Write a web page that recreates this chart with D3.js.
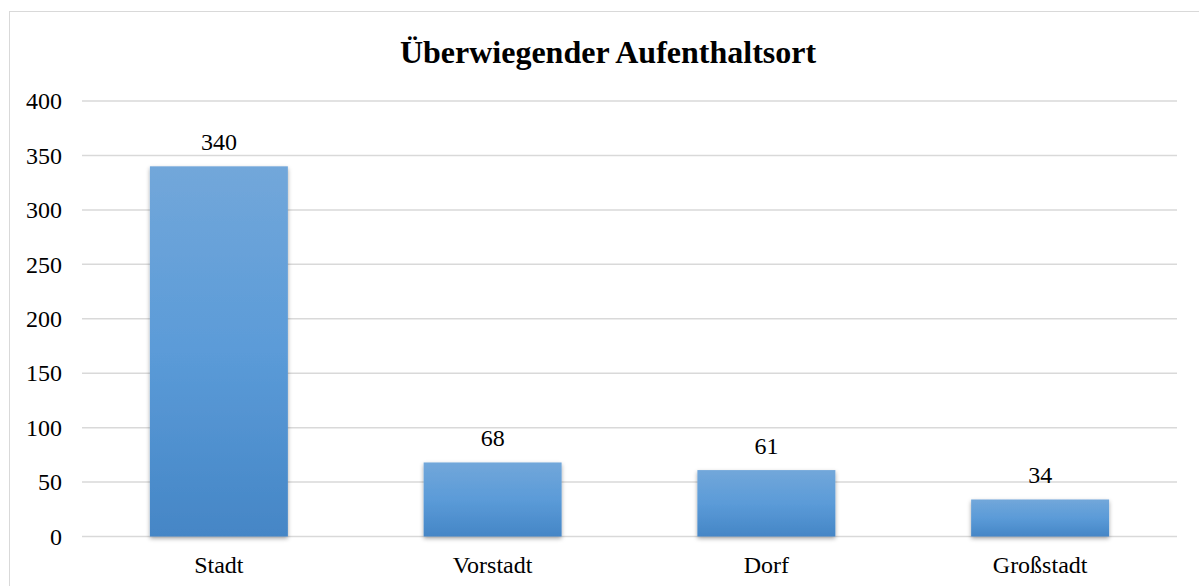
<!DOCTYPE html>
<html>
<head>
<meta charset="utf-8">
<script src="https://cdn.jsdelivr.net/npm/d3@7"></script>
<style>
  body { margin: 0; background: #fff; }
  svg { display: block; }
  svg text { font-family: "Liberation Serif", "Times New Roman", serif; }
</style>
</head>
<body>
<svg id="chart"></svg>
<script>
// Data
var categories = ["Stadt", "Vorstadt", "Dorf", "Großstadt"];
var values = [340, 68, 61, 34];
var yTicks = [0, 50, 100, 150, 200, 250, 300, 350, 400];
var title = "Überwiegender Aufenthaltsort";

var W = 1199, H = 586;
var plot = { left: 82, right: 1177, top: 101, bottom: 536.5 };

var svg = d3.select("#chart")
  .attr("width", W)
  .attr("height", H);

// gradient + shadow for the bars
var defs = svg.append("defs");
var grad = defs.append("linearGradient")
  .attr("id", "barGrad")
  .attr("x1", 0).attr("y1", 0).attr("x2", 0).attr("y2", 1);
grad.append("stop").attr("offset", "0%").attr("stop-color", "#72a7da");
grad.append("stop").attr("offset", "50%").attr("stop-color", "#5b9bd8");
grad.append("stop").attr("offset", "100%").attr("stop-color", "#4586c6");

var shadow = defs.append("filter")
  .attr("id", "shadow")
  .attr("x", "-10%").attr("y", "-10%")
  .attr("width", "120%").attr("height", "130%");
shadow.append("feDropShadow")
  .attr("dx", 0).attr("dy", 2)
  .attr("stdDeviation", 2.2)
  .attr("flood-color", "#000")
  .attr("flood-opacity", 0.35);

// outer chart border (runs off the right/bottom edge)
svg.append("rect")
  .attr("x", 9.5).attr("y", 11.5)
  .attr("width", W + 20).attr("height", H + 20)
  .attr("fill", "none")
  .attr("stroke", "#d9d9d9")
  .attr("stroke-width", 1);

// scales
var x = d3.scaleBand()
  .domain(categories)
  .range([plot.left, plot.right])
  .paddingInner(0.496)
  .paddingOuter(0.248);

var y = d3.scaleLinear()
  .domain([0, 400])
  .range([plot.bottom, plot.top]);

// gridlines
svg.append("g")
  .selectAll("line")
  .data(yTicks)
  .enter().append("line")
  .attr("x1", plot.left)
  .attr("x2", plot.right)
  .attr("y1", function(d) { return y(d); })
  .attr("y2", function(d) { return y(d); })
  .attr("stroke", "#d9d9d9")
  .attr("stroke-width", 1.5);

// y axis labels
var yAxis = d3.axisLeft(y).tickValues(yTicks).tickSize(0).tickPadding(20);
svg.append("g")
  .attr("transform", "translate(" + plot.left + ",0)")
  .call(yAxis)
  .call(function(g) { g.select(".domain").remove(); })
  .attr("font-family", null)
  .selectAll("text")
  .attr("font-size", 24)
  .attr("fill", "#000");

// x axis labels
var xAxis = d3.axisBottom(x).tickSize(0).tickPadding(19);
svg.append("g")
  .attr("transform", "translate(0," + plot.bottom + ")")
  .call(xAxis)
  .call(function(g) { g.select(".domain").remove(); })
  .attr("font-family", null)
  .selectAll("text")
  .attr("font-size", 24)
  .attr("fill", "#000");

// bars
svg.append("g")
  .selectAll("rect")
  .data(values)
  .enter().append("rect")
  .attr("x", function(d, i) { return x(categories[i]); })
  .attr("y", function(d) { return y(d); })
  .attr("width", x.bandwidth())
  .attr("height", function(d) { return y(0) - y(d); })
  .attr("fill", "url(#barGrad)")
  .attr("filter", "url(#shadow)");

// value labels
svg.append("g")
  .selectAll("text")
  .data(values)
  .enter().append("text")
  .attr("x", function(d, i) { return x(categories[i]) + x.bandwidth() / 2; })
  .attr("y", function(d) { return y(d) - 16; })
  .attr("text-anchor", "middle")
  .attr("font-size", 24)
  .attr("fill", "#000")
  .text(function(d) { return d; });

// title
svg.append("text")
  .attr("x", 608)
  .attr("y", 63)
  .attr("text-anchor", "middle")
  .attr("font-size", 32)
  .attr("font-weight", "bold")
  .attr("fill", "#000")
  .text(title);
</script>
</body>
</html>
